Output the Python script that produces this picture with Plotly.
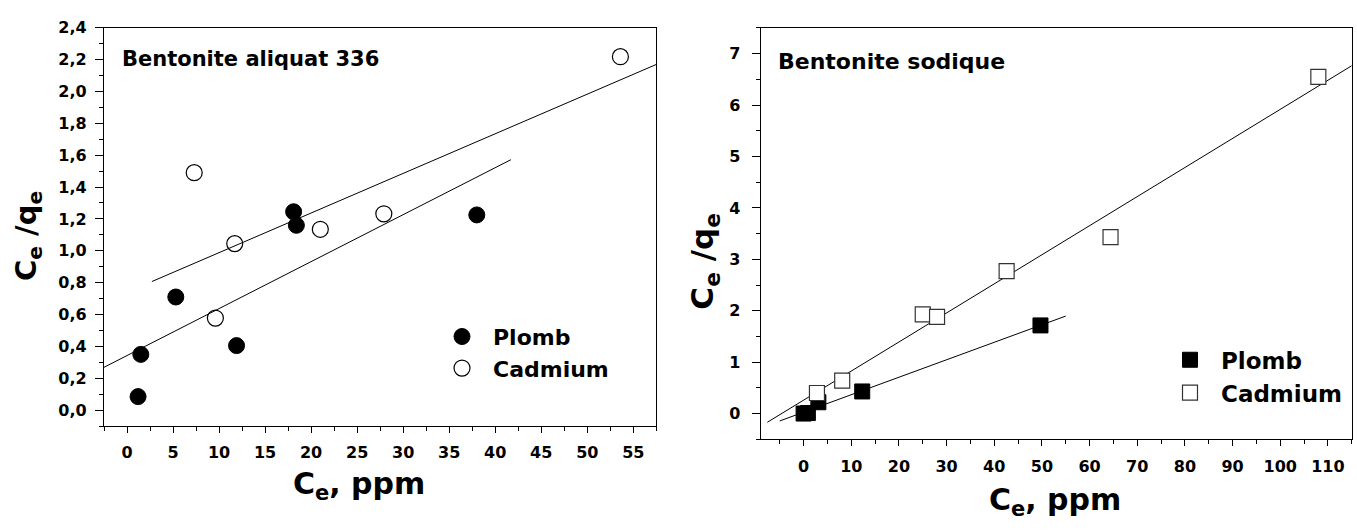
import numpy as np
import plotly.graph_objects as go

# ---- Bentonite aliquat 336 : Ce/qe versus Ce ----
ce_pb_aliquat = [1.2, 1.5, 5.3, 11.9, 18.1, 18.4, 38.0]
cq_pb_aliquat = [0.085, 0.35, 0.71, 0.405, 1.245, 1.16, 1.225]
ce_cd_aliquat = [7.3, 9.6, 11.7, 21.0, 27.9, 53.6]
cq_cd_aliquat = [1.49, 0.578, 1.045, 1.135, 1.232, 2.218]
fit_span_pb_aliquat = [-2.5, 41.7]
fit_span_cd_aliquat = [2.7, 57.5]

# ---- Bentonite sodique : Ce/qe versus Ce ----
ce_pb_sodique = [0.0, 0.9, 3.1, 12.3, 49.7]
cq_pb_sodique = [0.0, 0.01, 0.22, 0.43, 1.715]
ce_cd_sodique = [2.8, 8.1, 25.0, 28.0, 42.6, 64.4, 108.0]
cq_cd_sodique = [0.40, 0.64, 1.93, 1.88, 2.77, 3.43, 6.55]
fit_span_pb_sodique = [-5.0, 55.0]
fit_span_cd_sodique = [-7.6, 115.0]

# tick values
xticks_aliquat = list(range(0, 60, 5))
yticks_aliquat = [round(0.2 * i, 1) for i in range(13)]
xticks_sodique = list(range(0, 120, 10))
yticks_sodique = list(range(0, 8))

W, H = 1357, 530
FONT = "DejaVu Sans"


def px(x):
    return x / W


def py(y):
    return 1 - y / H


def linear_fit(xs, ys, span):
    slope, intercept = np.polyfit(xs, ys, 1)
    xs_line = np.array(span)
    return xs_line, slope * xs_line + intercept


fig = go.Figure()

# left panel
fig.add_trace(go.Scatter(
    x=ce_pb_aliquat, y=cq_pb_aliquat, mode="markers", name="Plomb",
    marker=dict(symbol="circle", size=16, color="black",
                line=dict(color="black", width=1)),
    xaxis="x", yaxis="y", legend="legend"))
fig.add_trace(go.Scatter(
    x=ce_cd_aliquat, y=cq_cd_aliquat, mode="markers", name="Cadmium",
    marker=dict(symbol="circle", size=16, color="white",
                line=dict(color="black", width=1.2)),
    xaxis="x", yaxis="y", legend="legend"))
for xs, ys, span in [(ce_pb_aliquat, cq_pb_aliquat, fit_span_pb_aliquat),
                     (ce_cd_aliquat, cq_cd_aliquat, fit_span_cd_aliquat)]:
    lx, ly = linear_fit(xs, ys, span)
    fig.add_trace(go.Scatter(x=lx, y=ly, mode="lines", showlegend=False,
                             line=dict(color="black", width=1),
                             xaxis="x", yaxis="y", hoverinfo="skip"))

# right panel
for xs, ys, span in [(ce_pb_sodique, cq_pb_sodique, fit_span_pb_sodique),
                     (ce_cd_sodique, cq_cd_sodique, fit_span_cd_sodique)]:
    lx, ly = linear_fit(xs, ys, span)
    fig.add_trace(go.Scatter(x=lx, y=ly, mode="lines", showlegend=False,
                             line=dict(color="black", width=1),
                             xaxis="x2", yaxis="y2", hoverinfo="skip"))
fig.add_trace(go.Scatter(
    x=ce_pb_sodique, y=cq_pb_sodique, mode="markers", name="Plomb",
    marker=dict(symbol="square", size=15, color="black",
                line=dict(color="black", width=1)),
    xaxis="x2", yaxis="y2", legend="legend2"))
fig.add_trace(go.Scatter(
    x=ce_cd_sodique, y=cq_cd_sodique, mode="markers", name="Cadmium",
    marker=dict(symbol="square", size=15, color="white",
                line=dict(color="#333333", width=1.2)),
    xaxis="x2", yaxis="y2", legend="legend2"))

tickfont = dict(family=FONT, size=16, color="black", weight="bold")


def axis(domain, rng, ticks, anchor, minor_dtick, ticklen, fmt=None, **kw):
    d = dict(domain=domain, range=rng, tickmode="array", tickvals=ticks,
             anchor=anchor, showline=True, linecolor="black", linewidth=1.2,
             mirror=True, ticks="outside", ticklen=ticklen, tickwidth=1.2,
             tickcolor="black", showgrid=False, zeroline=False,
             tickfont=tickfont,
             minor=dict(dtick=minor_dtick, ticks="outside", ticklen=4,
                        tickwidth=1.2, tickcolor="black", showgrid=False))
    if fmt:
        d["tickformat"] = fmt
    d.update(kw)
    return d


fig.update_layout(
    width=W, height=H, margin=dict(l=0, r=0, t=0, b=0),
    paper_bgcolor="white", plot_bgcolor="white",
    separators=", ",
    xaxis=axis([px(104), px(656.3)], [-2.5, 57.5], xticks_aliquat, "y",
               2.5, 6, ticklabelstandoff=6),
    yaxis=axis([py(424.3), py(19)], [-0.1, 2.4], yticks_aliquat, "x",
               0.1, 8, ".1f", ticklabelstandoff=5),
    xaxis2=axis([px(760.7), px(1351.7)], [-9, 115], xticks_sodique, "y2",
                5, 6, ticklabelstandoff=6),
    yaxis2=axis([py(437.7), py(19.3)], [-0.5, 7.5], yticks_sodique, "x2",
                0.5, 8, ticklabelstandoff=8),
    legend=dict(x=px(431), y=py(312), xanchor="left", yanchor="top",
                bgcolor="rgba(0,0,0,0)", itemwidth=52, tracegroupgap=0,
                font=dict(family=FONT, size=22, color="black", weight="bold")),
    legend2=dict(x=px(1159), y=py(335), xanchor="left", yanchor="top",
                 bgcolor="rgba(0,0,0,0)", itemwidth=52, tracegroupgap=0,
                 font=dict(family=FONT, size=23, color="black", weight="bold")),
    showlegend=True,
)

title_font = dict(family=FONT, color="black", weight="bold")
annotations = [
    dict(text="Bentonite aliquat 336", x=px(120), y=py(51), xanchor="left",
         yanchor="middle", font=dict(size=21, **title_font)),
    dict(text="Bentonite sodique", x=px(776), y=py(53), xanchor="left",
         yanchor="middle", font=dict(size=22, **title_font)),
    dict(text="C<sub>e</sub>, ppm", x=px(359), y=py(485), xanchor="center",
         yanchor="middle", font=dict(size=30, **title_font)),
    dict(text="C<sub>e</sub>, ppm", x=px(1055), y=py(501), xanchor="center",
         yanchor="middle", font=dict(size=30, **title_font)),
    dict(text="C<sub>e</sub> /q<sub>e</sub>", x=px(28), y=py(231),
         xanchor="center", yanchor="middle", textangle=-90,
         font=dict(size=29, **title_font)),
    dict(text="C<sub>e</sub> /q<sub>e</sub>", x=px(705), y=py(257),
         xanchor="center", yanchor="middle", textangle=-90,
         font=dict(size=31, **title_font)),
]
fig.update_layout(annotations=[dict(a, xref="paper", yref="paper",
                                    showarrow=False) for a in annotations])

fig.write_html("out.html")
